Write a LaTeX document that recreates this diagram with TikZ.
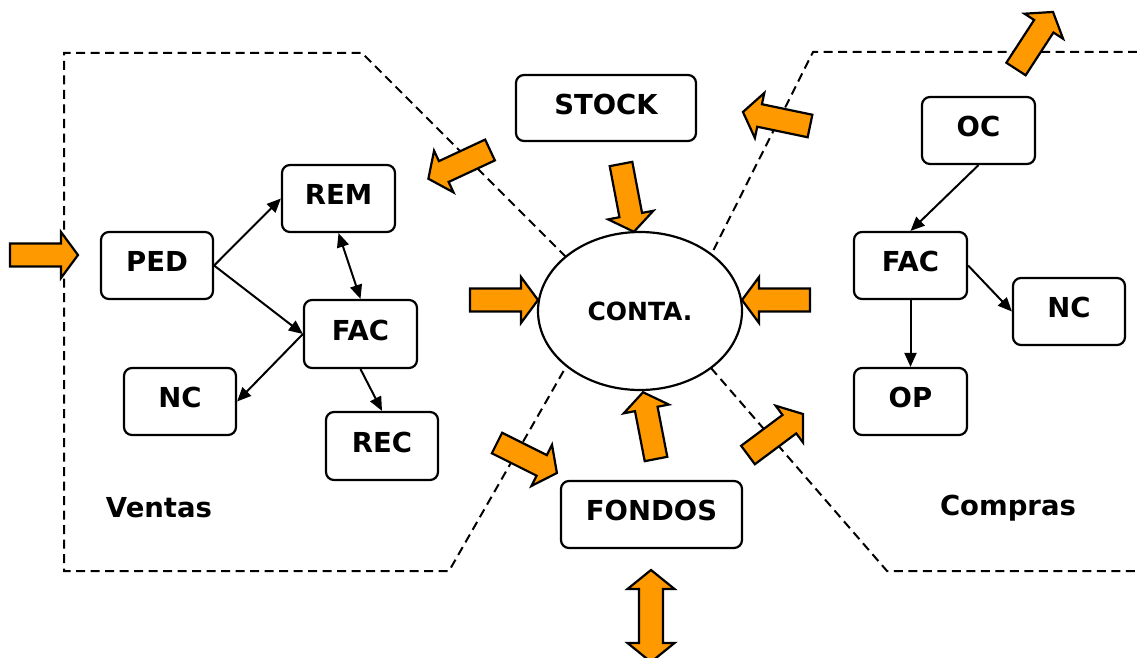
\documentclass[tikz,border=0pt]{standalone}
\usepackage{fontspec}
\setmainfont{DejaVu Sans}
\usetikzlibrary{arrows.meta,shapes.geometric}
\definecolor{arrowfill}{RGB}{255,153,0}
\tikzset{
 box/.style={draw, line width=2.2pt, rounded corners=8pt, fill=white, minimum width=113pt, minimum height=67pt, inner sep=0pt, text depth=8pt, font=\fontsize{27.5}{32}\selectfont\bfseries},
 link/.style={line width=2pt, -{Triangle[length=14pt,width=12pt]}},
 dlink/.style={line width=2pt, {Triangle[length=14pt,width=12pt]}-{Triangle[length=14pt,width=12pt]}},
 region/.style={line width=2pt, dash pattern=on 9pt off 5.5pt},
 blk/.style={draw, line width=2.2pt, fill=arrowfill, line join=miter},
 lbl/.style={font=\fontsize{27.5}{32}\selectfont\bfseries}
}
\newcommand\blockarrow[4]{\begin{scope}[shift={(#1,#2)},rotate=#3]
\draw[blk] (0,-11.5) -- ({#4-17},-11.5) -- ({#4-17},-23) -- (#4,0) -- ({#4-17},23) -- ({#4-17},11.5) -- (0,11.5) -- cycle;
\end{scope}}
\begin{document}
\begin{tikzpicture}[x=1pt,y=-1pt]
\useasboundingbox (0,0) rectangle (1137,658);
% regions
\coordinate (l1) at (64,53);
\coordinate (l2) at (362,53);
\coordinate (l3) at (566,257);
\coordinate (l4) at (567,365);
\coordinate (l5) at (449,571);
\coordinate (l6) at (64,571);
\draw[region] (l3) -- (l2) -- (l1) -- (l6) -- (l5) -- (l4);
\coordinate (r1) at (1137,52);
\coordinate (r2) at (813,52);
\coordinate (r3) at (710,257);
\coordinate (r4) at (711,368);
\coordinate (r5) at (887,571);
\coordinate (r6) at (1137,571);
\draw[region] (r1) -- (r2) -- (r3);
\draw[region] (r4) -- (r5) -- (r6);
% center
\node[draw, ellipse, line width=2.2pt, fill=white, minimum width=204pt, minimum height=158pt, inner sep=0pt, font=\fontsize{25}{30}\selectfont\bfseries] (conta) at (640,311) {CONTA.};
% boxes
\node[box, minimum width=180pt, minimum height=66pt] (stock) at (606,108) {STOCK};
\node[box] (rem) at (338.5,198.5) {REM};
\node[box, minimum width=112pt] (ped) at (157,265.5) {PED};
\node[box, minimum height=68pt] (facl) at (360.5,334) {FAC};
\node[box, minimum width=112pt] (ncl) at (180,401.5) {NC};
\node[box, minimum width=112pt, minimum height=68pt] (rec) at (382,446) {REC};
\node[box, minimum width=181pt] (fondos) at (651.5,514.5) {FONDOS};
\node[box] (oc) at (978.5,130.5) {OC};
\node[box] (facr) at (910.5,265.5) {FAC};
\node[box, minimum width=112pt] (ncr) at (1069,311.5) {NC};
\node[box] (op) at (910.5,401.5) {OP};
\node[lbl] (ventas) at (159,508) {Ventas};
\node[lbl] (compras) at (1008,508) {Compras};
% connectors
\draw[link] (ped.east) -- (rem.west);
\draw[link] (ped.east) -- (facl.west);
\draw[dlink] (rem.south) -- (facl.north);
\draw[link] (facl.west) -- (ncl.east);
\draw[link] (facl.south) -- (rec.north);
\draw[link] (oc.south) -- (facr.north);
\draw[link] (facr.east) -- (ncr.west);
\draw[link] (facr.south) -- (op.north);
% orange block arrows
\blockarrow{10}{255}{0}{68}
\blockarrow{490}{150}{205}{68}
\blockarrow{621}{164}{-79.2}{69}
\blockarrow{810}{126}{168.2}{68.5}
\blockarrow{1016}{69}{57}{68}
\blockarrow{470}{300}{0}{68}
\blockarrow{810}{300}{180}{68}
\blockarrow{497}{443}{-26.6}{67}
\blockarrow{656}{459}{101}{68}
\blockarrow{748}{455}{36.7}{68.6}
\draw[blk] (651,570) -- (674.5,589) -- (663,589) -- (663,643) -- (674.5,643) -- (651,662) -- (627.5,643) -- (639,643) -- (639,589) -- (627.5,589) -- cycle;
\end{tikzpicture}
\end{document}
